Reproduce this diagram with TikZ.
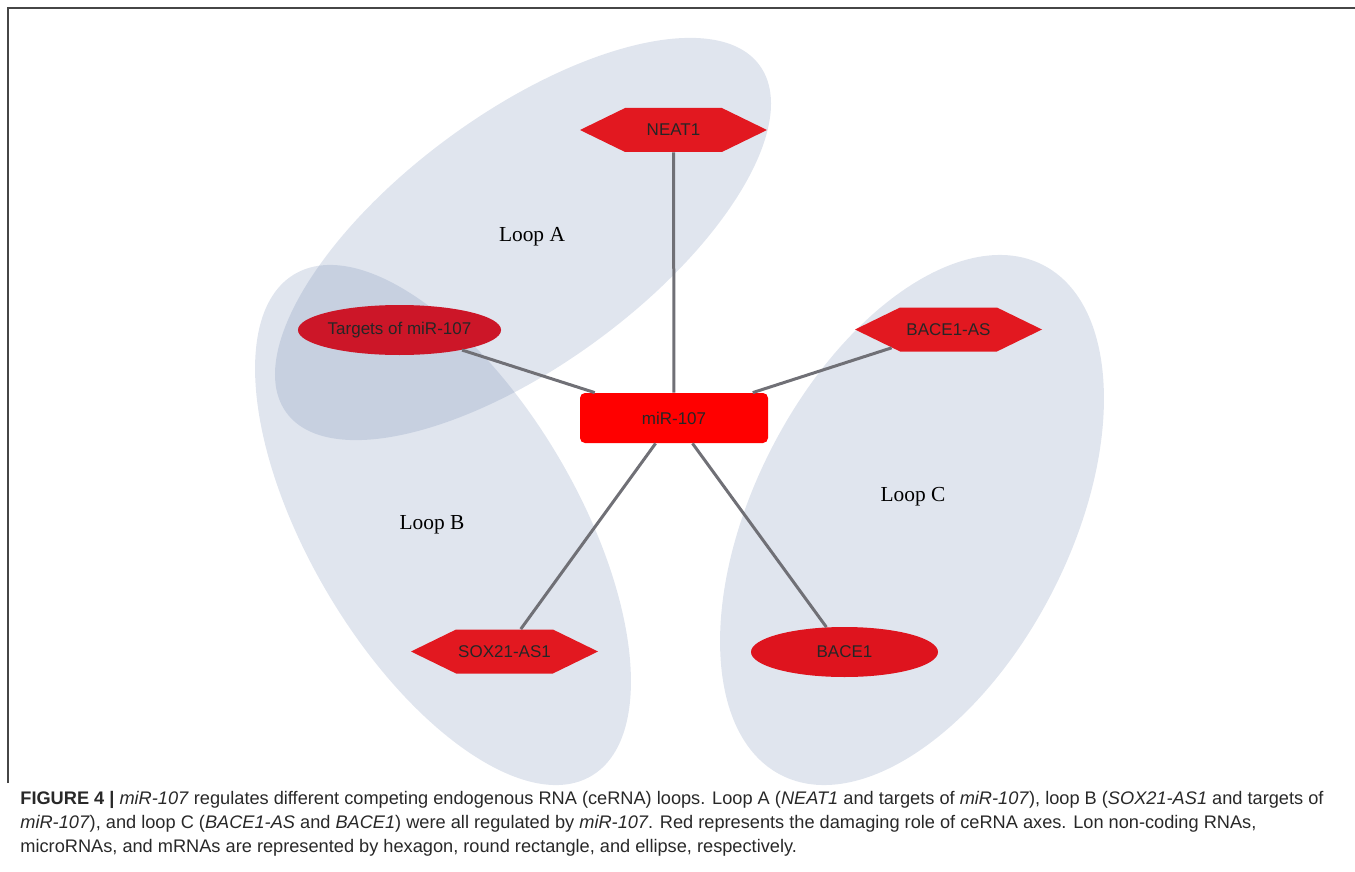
\documentclass[tikz,border=0pt]{standalone}
\usepackage{fontspec}
\setmainfont{Liberation Sans}
\newfontfamily\loopfont{Liberation Serif}
\usetikzlibrary{shapes.symbols,shapes.geometric}
\definecolor{loopfill}{RGB}{100,125,170}
\definecolor{lncred}{RGB}{226,24,32}
\definecolor{mirred}{RGB}{255,0,0}
\definecolor{tgtred}{RGB}{204,22,40}
\definecolor{mrnared}{RGB}{222,20,30}
\definecolor{edgegray}{RGB}{112,112,118}
\definecolor{captext}{RGB}{40,40,40}
\definecolor{framegray}{RGB}{70,70,70}
\tikzset{every node/.style={font=\fontsize{8.5}{10}\selectfont,text=black!85}}

\begin{document}
\begin{tikzpicture}[x=0.5pt,y=-0.5pt,
        loop/.style={fill=loopfill,fill opacity=0.2},
        lnc/.style={signal,signal to=west and east,signal pointer angle=52,fill=lncred,
            minimum width=93.5pt,minimum height=22pt,inner sep=0pt},
        mirbox/.style={rectangle,rounded corners=2.5pt,fill=mirred,minimum width=94pt,minimum height=25pt},
        mrna/.style={ellipse,fill=#1,minimum width=93.5pt,minimum height=25pt,inner sep=0pt},
        link/.style={draw=edgegray,line width=1.5pt},
        looplabel/.style={font=\loopfont\fontsize{10.7}{13}\selectfont,text=black},
        caption/.style={font=\fontsize{9.1}{12}\selectfont,text=captext,align=left,inner sep=0pt}]
    \useasboundingbox (0,0) rectangle (1355,872);

    \fill[loop,rotate around={36.3:(523,239)}] (523,239) ellipse [x radius=293.5,y radius=125.6];
    \fill[loop,rotate around={-59.4:(443,525)}] (443,525) ellipse [x radius=291.5,y radius=134];
    \fill[loop,rotate around={62.8:(912,520)}] (912,520) ellipse [x radius=286.7,y radius=157.7];

    \node[lnc] (neat) at (673.5,130) {NEAT1};
    \node[mirbox] (mir) at (674,418) {miR-107};
    \node[mrna=tgtred] (tgt) at (399.5,330) {Targets of miR-107};
    \node[lnc] (bace1as) at (948.5,329.5) {BACE1-AS};
    \node[lnc] (sox) at (504.5,651.5) {SOX21-AS1};
    \node[mrna=mrnared] (bace1) at (844.5,652) {BACE1};

    \draw[link] (mir) -- (neat);
    \draw[link] (mir) -- (tgt);
    \draw[link] (mir) -- (bace1as);
    \draw[link] (mir) -- (sox);
    \draw[link] (mir) -- (bace1);

    \node[looplabel] (loopa) at (532,237) {Loop A};
    \node[looplabel] (loopb) at (432,525) {Loop B};
    \node[looplabel] (loopc) at (913,497) {Loop C};

    \coordinate (fbl) at (8,783);
    \coordinate (ftl) at (8,8);
    \coordinate (ftr) at (1355,8);
    \draw[framegray,line width=1pt] (fbl) -- (ftl) -- (ftr);

    \node[caption,anchor=north west] (cap) at (20,791)
        {\textbf{FIGURE 4 |} \textit{miR-107} regulates different competing endogenous RNA (ceRNA) loops. Loop A (\textit{NEAT1} and targets of \textit{miR-107}), loop B (\textit{SOX21-AS1} and targets of\\
        \textit{miR-107}), and loop C (\textit{BACE1-AS} and \textit{BACE1}) were all regulated by \textit{miR-107}. Red represents the damaging role of ceRNA axes. Lon non-coding RNAs,\\
        microRNAs, and mRNAs are represented by hexagon, round rectangle, and ellipse, respectively.};
\end{tikzpicture}
\end{document}
